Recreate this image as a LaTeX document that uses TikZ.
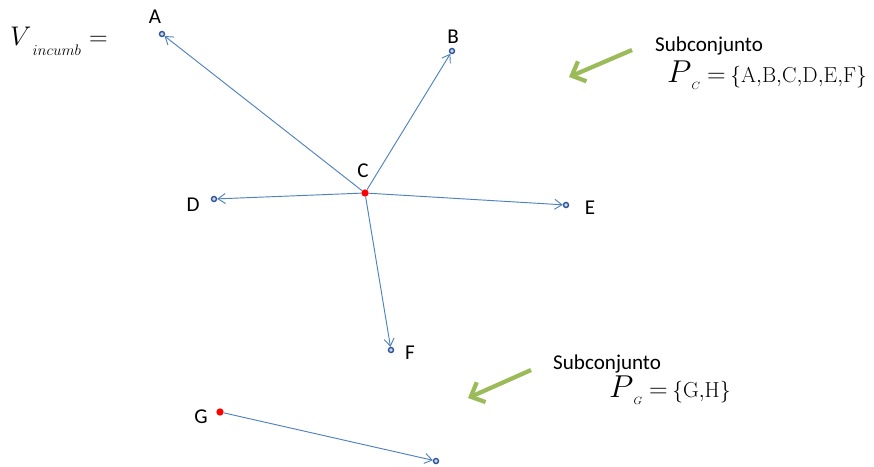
\RequirePackage{fix-cm}
\documentclass[tikz,border=0pt]{standalone}
\usepackage{amsmath,amssymb}
\usepackage{fontspec}
\newfontfamily\calibri{Carlito}
\usepackage{xcolor}
\usetikzlibrary{positioning,arrows.meta}
\definecolor{edgeblue}{HTML}{4F81BD}
\definecolor{dotblue}{HTML}{2F5597}
\definecolor{arrgreen}{HTML}{9BBB59}
\newcommand{\subsetof}[2]{{\fontsize{27}{30}\selectfont$P$}\raisebox{-6pt}{\fontsize{9}{9}\selectfont$#1$}\hspace{6pt}{\fontsize{22}{24}\selectfont$=$}\hspace{4pt}{\fontsize{18.5}{22}\selectfont$\{\mathrm{#2}\}$}}
\tikzset{
  vert/.style={circle, draw=dotblue, fill=edgeblue!30, line width=1.2pt, inner sep=0pt, minimum size=0.15cm},
  root/.style={circle, fill=red, inner sep=0pt, minimum size=0.22cm},
  lbl/.style={font=\calibri\fontsize{18}{20}\selectfont, inner sep=0pt},
  mathlbl/.style={anchor=base west, inner sep=0pt},
  edge/.style={-{Straight Barb[length=2.2mm, width=3mm]}, draw=edgeblue, line width=0.8pt},
  hint/.style={-{Straight Barb[length=3.4mm, width=6.5mm]}, draw=arrgreen, line width=3.6pt},
}
\begin{document}
\begin{tikzpicture}[x=0.03cm, y=-0.03cm]
  \useasboundingbox (0,0) rectangle (874,466);
  % title
  \node[mathlbl] (vinc) at (10,45) {{\fontsize{23}{26}\selectfont$V$}\hspace{1pt}\raisebox{-9pt}{\fontsize{13}{13}\selectfont$incumb$}\hspace{7pt}{\fontsize{22}{24}\selectfont$=$}};
  % first subset
  \node[root] (C) at (365,193) {};
  \node[vert] (A) at (162,34) {};
  \node[vert] (B) at (452,51) {};
  \node[vert] (D) at (214,199) {};
  \node[vert] (E) at (566,205) {};
  \node[vert] (F) at (391,350) {};
  \node[lbl] (lA) at (155,17) {A};
  \node[lbl] (lB) at (453,37) {B};
  \node[lbl] (lC) at (363,171) {C};
  \node[lbl] (lD) at (193,205) {D};
  \node[lbl] (lE) at (590,208) {E};
  \node[lbl] (lF) at (410,353) {F};
  % second subset
  \node[root] (G) at (220,412) {};
  \node[vert] (H) at (436,461) {};
  \node[lbl] (lG) at (201,417) {G};
  % edges
  \foreach \t in {A,B,D,E,F}
    \draw[edge] (C) -- (\t);
  \draw[edge] (G) -- (H);
  % subset notes
  \node[lbl, anchor=base west] (sub1) at (655,51) {Subconjunto};
  \node[mathlbl] (pc) at (667,82) {\subsetof{C}{A{,}B{,}C{,}D{,}E{,}F}};
  \node[lbl, anchor=base west] (sub2) at (553,369) {Subconjunto};
  \node[mathlbl] (pg) at (609,397) {\subsetof{G}{G{,}H}};
  \coordinate (t1) at (569,77);
  \coordinate (t2) at (468,398);
  \draw[hint] (632,50) coordinate (s1) -- (t1);
  \draw[hint] (531,370) coordinate (s2) -- (t2);
\end{tikzpicture}
\end{document}
